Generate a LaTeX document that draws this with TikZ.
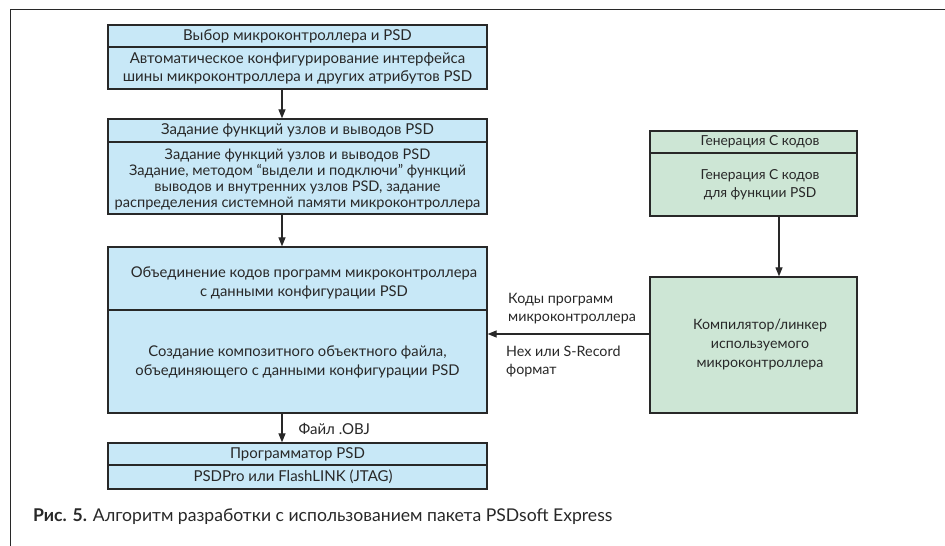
\documentclass[tikz,border=0pt]{standalone}
\usepackage{fontspec}
\setmainfont{Lato}
\usetikzlibrary{arrows.meta}
\definecolor{bluefill}{RGB}{200,232,247}
\definecolor{greenfill}{RGB}{205,230,213}
\definecolor{ink}{RGB}{40,40,40}
\begin{document}
\begin{tikzpicture}[x=1pt,y=-1pt,
  box/.style={draw=ink, line width=1.3pt, rectangle, inner sep=0pt, text=ink},
  bbox/.style={box, fill=bluefill, minimum width=379pt},
  gbox/.style={box, fill=greenfill, minimum width=207pt},
  txt/.style={text=ink, align=center, inner sep=0pt},
  lbl/.style={text=ink, align=left, inner sep=0pt, anchor=west},
  arr/.style={draw=ink, line width=1.2pt, -{Triangle[length=9pt,width=7pt]}},
  f16/.style={font=\fontsize{14.6}{16}\selectfont},
  f18/.style={font=\fontsize{15}{18}\selectfont},
  f19/.style={font=\fontsize{14.8}{19}\selectfont},
  g18/.style={font=\fontsize{13.8}{18}\selectfont},
  g19/.style={font=\fontsize{14.2}{19}\selectfont},
  l18/.style={font=\fontsize{14.3}{18}\selectfont}
]
\useasboundingbox (0,0) rectangle (945,546);
\fill[white] (0,0) rectangle (945,546);
% page frame
\draw[ink, line width=0.9pt] (10,546) -- (10,9) -- (945,9);

\coordinate (ax) at (282,0);
\coordinate (gx) at (779,0);

% Box 1
\node[bbox, minimum height=22pt, f18] (h1) at (297.5,36) {Выбор микроконтроллера и PSD};
\node[bbox, minimum height=42pt, f18, align=center] (b1) at (297.5,68)
  {Автоматическое конфигурирование интерфейса\\шины микроконтроллера и других атрибутов PSD};

% Box 2
\node[bbox, minimum height=23pt, f18] (h2) at (297.5,130.5) {Задание функций узлов и выводов PSD};
\node[bbox, minimum height=72pt] (b2) at (297.5,178) {};
\node[txt, f16] (b2t) at (297.5,179) 
  {Задание функций узлов и выводов PSD\\Задание, методом “выдели и подключи” функций\\выводов и внутренних узлов PSD, задание\\распределения системной памяти микроконтроллера};

% Box 3
\node[bbox, minimum height=63pt] (t3) at (297.5,278.5) {};
\node[txt, f19] (t3t) at (304,282.5) {Объединение кодов программ микроконтроллера\\с данными конфигурации PSD};
\node[bbox, minimum height=103pt, f19, align=center] (b3) at (297.5,361.5)
  {Создание композитного объектного файла,\\объединяющего с данными конфигурации PSD};

% Programmer
\node[bbox, minimum height=22pt, f18] (ph) at (297.5,454) {Программатор PSD};
\node[bbox, minimum height=24pt] (pb) at (297.5,477) {};
\node[txt, f18] (pbt) at (293,477) {PSDPro или FlashLINK (JTAG)};

% Green boxes
\node[gbox, minimum height=22pt] (gh) at (753.5,142) {};
\node[txt, g18] (ght) at (760,142) {Генерация С кодов};
\node[gbox, minimum height=63pt] (gb) at (753.5,184.5) {};
\node[txt, g18] (gbt) at (760,185) {Генерация С кодов\\для функции PSD};
\node[gbox, minimum height=136pt] (cp) at (753.5,345) {};
\node[txt, g19] (cpt) at (760,344) {Компилятор/линкер\\используемого\\микроконтроллера};

% Connectors
\draw[arr] (b1.south -| ax) -- (h2.north -| ax);
\draw[arr] (b2.south -| ax) -- (t3.north -| ax);
\draw[arr] (b3.south -| ax) -- node[lbl, f18, pos=0.55, xshift=16pt] (objl) {Файл .OBJ} (ph.north -| ax);
\draw[arr] (gb.south -| gx) -- (cp.north -| gx);
\coordinate (hy) at (0,334);
\draw[arr] (cp.west |- hy) -- (b3.east |- hy);

% Arrow labels
\node[lbl, l18] (lk) at (508,309) {Коды программ\\микроконтроллера};
\node[lbl, l18] (lh) at (506,361) {Hex или S-Record\\формат};

% Caption
\node[text=ink, anchor=west, inner sep=0pt, font=\fontsize{17.6}{20}\selectfont] (cap) at (33,517)
  {\textbf{Рис. 5.} Алгоритм разработки с использованием пакета PSDsoft Express};
\end{tikzpicture}
\end{document}
